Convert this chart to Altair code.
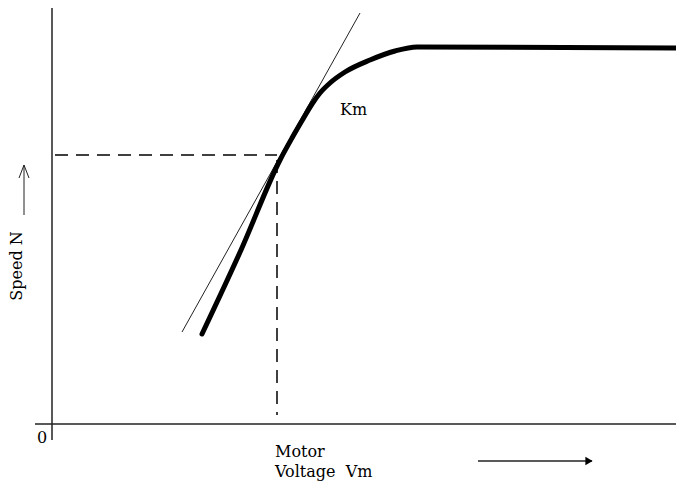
import altair as alt
import pandas as pd

# Motor speed vs voltage characteristic (arbitrary units, origin at axes crossing)
curve_v = [150, 189, 228, 240, 251, 260, 268, 278, 293, 318, 343, 365, 626]
curve_n = [90, 174, 264, 286, 305, 320, 331, 341, 352, 364, 373, 377, 376]

tangent_v = [130, 308]
tangent_n = [92, 411]

op_v = 225   # operating voltage
op_n = 269   # operating speed

XD = [-44, 624]
YD = [-58, 416]
W, H = 668, 474
FONT = "DejaVu Serif"

xs = alt.Scale(domain=XD, nice=False, zero=False)
ys = alt.Scale(domain=YD, nice=False, zero=False)
noax = None


def X(f):
    return alt.X(f, type="quantitative", scale=xs, axis=noax)


def Y(f):
    return alt.Y(f, type="quantitative", scale=ys, axis=noax)


curve_df = pd.DataFrame({"v": curve_v, "n": curve_n, "o": range(len(curve_v))})
tan_df = pd.DataFrame({"v": tangent_v, "n": tangent_n, "o": [0, 1]})

curve = alt.Chart(curve_df).mark_line(color="black", strokeWidth=5, interpolate="monotone",
                                      strokeCap="round", clip=True).encode(
    x=X("v"), y=Y("n"), order="o:Q")

tangent = alt.Chart(tan_df).mark_line(color="#222", strokeWidth=1, clip=True).encode(
    x=X("v"), y=Y("n"), order="o:Q")

segs = pd.DataFrame({
    "x1": [0, -17, -28, -28, -28, 426],
    "y1": [416, 0, 209, 259, 259, -37],
    "x2": [0, 632, -28, -33, -23, 540],
    "y2": [-16, 0, 259, 246, 246, -37],
    "w": [1.5, 1.5, 1, 1, 1, 1.5],
})
axes = alt.Chart(segs).mark_rule(color="#222", clip=True).encode(
    x=X("x1"), y=Y("y1"), x2="x2", y2="y2",
    strokeWidth=alt.StrokeWidth("w:Q", scale=None, legend=None))

dash_df = pd.DataFrame({"x1": [3, op_v], "y1": [op_n, op_n - 5], "x2": [op_v, op_v], "y2": [op_n, 9]})
dashed = alt.Chart(dash_df).mark_rule(color="black", strokeWidth=1.5, strokeDash=[13, 8]).encode(
    x=X("x1"), y=Y("y1"), x2="x2", y2="y2")

head = alt.Chart(pd.DataFrame({"v": [537], "n": [-37]})).mark_point(
    shape="triangle-right", filled=True, color="black", size=70, opacity=1).encode(x=X("v"), y=Y("n"))

labels_df = pd.DataFrame({
    "v": [288, -15, 223, 223],
    "n": [314, -14, -28, -48],
    "t": ["Km", "0", "Motor", "Voltage\u00a0\u00a0Vm"],
})
labels = alt.Chart(labels_df).mark_text(font=FONT, fontSize=16, align="left", baseline="middle",
                                         color="black").encode(x=X("v"), y=Y("n"), text="t:N")

ylab = alt.Chart(pd.DataFrame({"v": [-35], "n": [158], "t": ["Speed\u00a0N"]})).mark_text(
    font=FONT, fontSize=16, angle=270, align="center", baseline="middle", color="black").encode(
    x=X("v"), y=Y("n"), text="t:N")

chart = alt.layer(axes, dashed, tangent, curve, head, labels, ylab).properties(
    width=W, height=H, padding=0, autosize=alt.AutoSizeParams(type="none"),
    background="white").configure_view(stroke=None)

chart.save("out.html", embed_options={"renderer": "svg", "actions": False})
